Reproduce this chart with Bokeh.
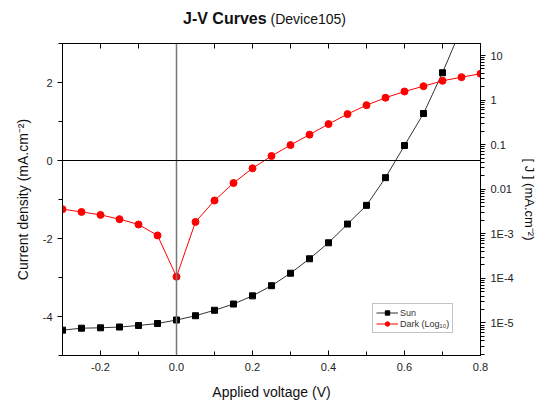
from bokeh.plotting import figure
from bokeh.layouts import column
from bokeh.models import (Range1d, LogScale, LinearAxis, LogAxis, FixedTicker, Span, Div,
                          Legend, LegendItem, CustomJSTickFormatter, CustomLabelingPolicy)
from bokeh.embed import file_html
from bokeh.resources import INLINE

# ---- data ----
voltage = [-0.3, -0.25, -0.2, -0.15, -0.1, -0.05, 0.0, 0.05, 0.1, 0.15, 0.2, 0.25,
           0.3, 0.35, 0.4, 0.45, 0.5, 0.55, 0.6, 0.65, 0.7, 0.75, 0.8]
sun_j = [-4.35, -4.30, -4.29, -4.27, -4.23, -4.18, -4.09, -3.98, -3.84, -3.68, -3.47, -3.21,
         -2.89, -2.52, -2.11, -1.63, -1.15, -0.44, 0.385, 1.205, 2.25, 3.4, 4.6]
dark_j = [3.57e-3, 3.1e-3, 2.66e-3, 2.13e-3, 1.62e-3, 9.2e-4, 1.09e-4, 1.85e-3, 5.58e-3,
          1.38e-2, 2.95e-2, 5.57e-2, 9.8e-2, 0.168, 0.290, 0.485, 0.77, 1.13, 1.56, 2.05,
          2.71, 3.27, 3.89]

x_major = [-0.2, 0.0, 0.2, 0.4, 0.6, 0.8]
x_minor = [-0.3, -0.1, 0.1, 0.3, 0.5, 0.7]
x_top_ticks = [-0.3, -0.2, -0.1, 0.0, 0.1, 0.2, 0.3, 0.4, 0.5, 0.6, 0.7, 0.8]
y_major = [-4, -2, 0, 2]
y_minor = [-5, -3, -1, 1, 3]
log_major = [1e-5, 1e-4, 1e-3, 1e-2, 1e-1, 1, 10]
log_labels = ["1E-5", "1E-4", "1E-3", "0.01", "0.1", "1", "10"]

FONT = "Liberation Sans"

TITLE_H = 30
p = figure(width=537, height=400 - TITLE_H, frame_width=418, frame_height=312,
           min_border_left=62, min_border_right=57, min_border_top=43 - TITLE_H,
           min_border_bottom=400 - TITLE_H - (43 - TITLE_H) - 312,
           x_range=Range1d(-0.3, 0.8), y_range=Range1d(-5, 3),
           output_backend="svg", toolbar_location=None, x_axis_location=None,
           y_axis_location=None)
p.grid.visible = False
p.outline_line_color = "black"
p.background_fill_color = "white"

p.extra_y_ranges = {"log": Range1d(10 ** -5.73, 10 ** 1.27)}
p.extra_y_scales = {"log": LogScale()}

def style(ax, ticks_in, label_size="14px"):
    ax.axis_line_color = "black"
    ax.axis_line_width = 1
    ax.major_tick_line_color = "black"
    ax.minor_tick_line_color = "black"
    ax.major_label_text_font = FONT
    ax.major_label_text_font_size = "11px"
    ax.major_label_text_color = "#222222"
    ax.axis_label_text_font = FONT
    ax.axis_label_text_font_size = label_size
    ax.axis_label_text_font_style = "normal"
    ax.axis_label_text_color = "#111111"
    if ticks_in:
        ax.major_tick_in, ax.major_tick_out = 5, 0
        ax.minor_tick_in, ax.minor_tick_out = 4, 0
    else:
        ax.major_tick_in, ax.major_tick_out = 0, 5
        ax.minor_tick_in, ax.minor_tick_out = 0, 4

# bottom axis
xb = LinearAxis(ticker=FixedTicker(ticks=x_major, minor_ticks=x_minor),
                axis_label="Applied voltage (V)")
style(xb, True)
xb.major_label_overrides = {-0.2: "-0.2", 0.0: "0.0", 0.2: "0.2", 0.4: "0.4", 0.6: "0.6", 0.8: "0.8"}
xb.major_label_standoff = 7
xb.axis_label_standoff = 10
p.add_layout(xb, "below")

# top axis (ticks only, no labels)
xt = LinearAxis(ticker=FixedTicker(ticks=x_top_ticks))
style(xt, True)
xt.major_label_standoff = 0
xt.major_label_policy = CustomLabelingPolicy(code="""
    const n = indices.size;
    for (let i = 0; i < n; i++) { indices.unset(i); }
    return indices;
""")
p.add_layout(xt, "above")

# left axis
yl = LinearAxis(ticker=FixedTicker(ticks=y_major, minor_ticks=y_minor),
                axis_label="Current density (mA.cm\u207b\u00b2)")
style(yl, False)
yl.major_label_overrides = {-4: "-4", -2: "-2", 0: "0", 2: "2"}
yl.major_label_standoff = 5
yl.axis_label_standoff = 9
p.add_layout(yl, "left")

# right log axis
minor_log = [m * 10.0 ** e for e in range(-6, 2) for m in range(2, 10)]
yr = LogAxis(y_range_name="log", ticker=FixedTicker(ticks=log_major, minor_ticks=minor_log),
             axis_label="[ J ] (mA.cm\u207b\u00b2)")
style(yr, False, "13px")
yr.formatter = CustomJSTickFormatter(args=dict(majors=log_major, labs=log_labels), code="""
    const e = Math.round(Math.log10(tick));
    for (let i = 0; i < majors.length; i++) {
        if (Math.round(Math.log10(majors[i])) == e) return labs[i];
    }
    return "";
""")
yr.major_label_standoff = 5
yr.axis_label_standoff = 5
p.add_layout(yr, "right")

# reference lines
p.add_layout(Span(location=0, dimension="height", line_color="#777777", line_width=1.5))
p.add_layout(Span(location=0, dimension="width", line_color="black", line_width=1))

# series
sun_line = p.line(voltage, sun_j, line_color="#333333", line_width=1)
sun_pts = p.scatter(voltage, sun_j, marker="square", size=6, fill_color="black", line_color="black")
dark_line = p.line(voltage, dark_j, line_color="red", line_width=1, y_range_name="log")
dark_pts = p.scatter(voltage, dark_j, marker="circle", size=7, fill_color="red", line_color="red",
                     y_range_name="log")

legend = Legend(items=[LegendItem(label="Sun", renderers=[sun_line, sun_pts]),
                       LegendItem(label="Dark (Log\u2081\u2080)", renderers=[dark_line, dark_pts])],
                location=(310, 22))
legend.label_text_font = FONT
legend.label_text_font_size = "9px"
legend.label_text_color = "#333333"
legend.glyph_width = 22
legend.glyph_height = 11
legend.label_height = 11
legend.spacing = 0
legend.padding = 3
legend.margin = 0
legend.label_standoff = 2
legend.border_line_color = "#888888"
legend.border_line_width = 1
p.add_layout(legend, "center")

# title
title = Div(text='<span style="font-weight:bold;font-size:16px;">J-V Curves</span>'
                 '<span style="font-size:14px;"> (Device105)</span>',
            width=537, height=TITLE_H, margin=(0, 0, 0, 0),
            styles={"font-family": FONT, "color": "#111111", "padding-left": "183px",
                    "padding-top": "10px", "line-height": "18px", "box-sizing": "border-box"})

layout = column(title, p, spacing=0)
open("out.html", "w").write(file_html(layout, INLINE))
